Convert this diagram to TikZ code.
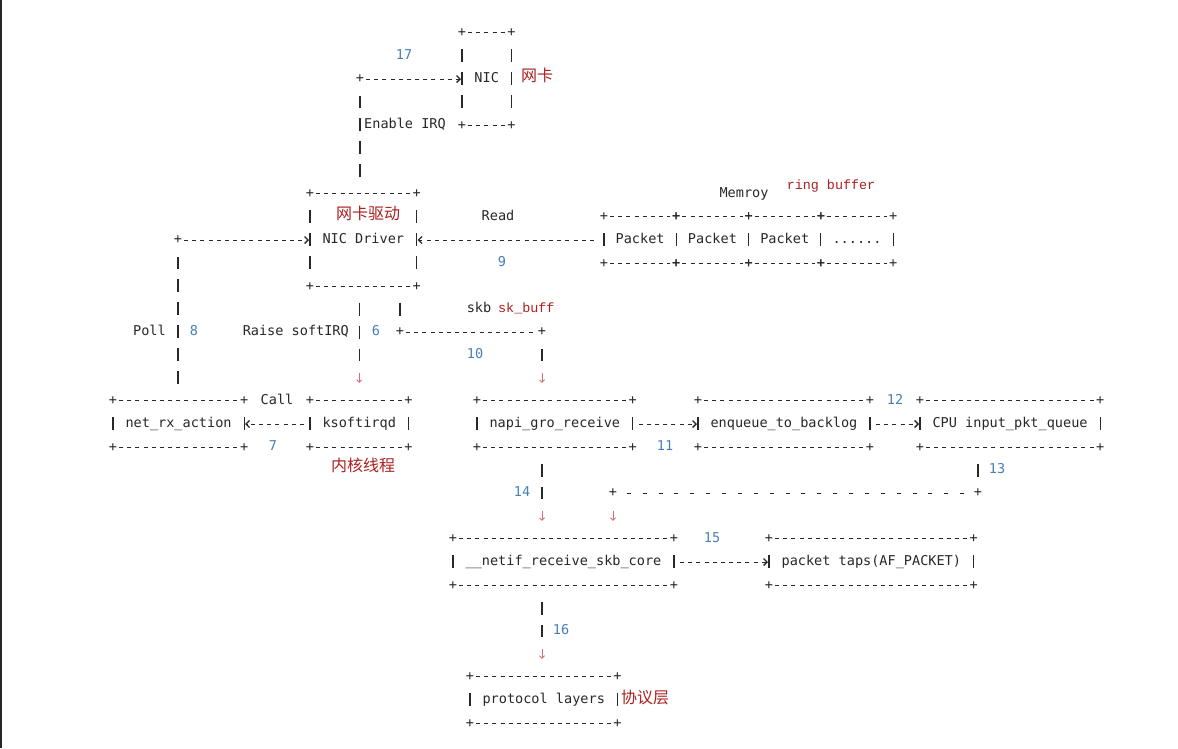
\documentclass[tikz,border=0pt]{standalone}
\usepackage{fontspec}
\setmonofont{DejaVu Sans Mono}
\newfontfamily\cnfont{Noto Sans CJK SC}
\newfontfamily\notefont{Liberation Mono}
\usetikzlibrary{arrows.meta}

\definecolor{ink}{RGB}{40,40,40}
\definecolor{stepblue}{RGB}{70,128,182}
\definecolor{notered}{RGB}{172,32,32}
\definecolor{tipred}{RGB}{214,112,112}

\tikzset{
  code/.style={font=\ttfamily\fontsize{13.55}{16}\selectfont, text=ink,
    inner sep=0pt, text height=9pt, text depth=3pt},
  asciibox/.style={code, minimum width=#1*8.17pt, minimum height=46pt, anchor=west},
  tallbox/.style={asciibox=#1, minimum height=92pt},
  corner/.style={font=\ttfamily\fontsize{13.55}{16}\selectfont, text=ink, inner sep=0pt},
  stepno/.style={code, text=stepblue},
  cnnote/.style={font=\cnfont\fontsize{16}{18}\selectfont, text=notered, inner sep=0pt},
  ennote/.style={font=\notefont\fontsize{13.4}{16}\selectfont, text=notered,
    inner sep=0pt, text height=9pt, text depth=3pt},
  hline/.style={draw=ink, line width=0.9pt, dash pattern=on 4pt off 4.17pt},
  hdots/.style={draw=ink, line width=0.9pt, dash pattern=on 4pt off 11.87pt},
  vline/.style={draw=ink, line width=1.1pt, dash pattern=on 13pt off 10pt},
  tip/.style={-{Straight Barb[length=3.5pt,width=7pt,line width=1.3pt]}, shorten >=1pt},
  downtip/.style={draw=tipred, line width=0.8pt, -{Straight Barb[length=2.5pt,width=5pt]}},
}

% frame of a box: + at the corners, ---- on top and bottom, | on the sides
\newcommand\asciiframe[1]{%
  \foreach \c in {north west,north east,south west,south east}
    \node[corner] at (#1.\c) {+};
  \draw[hline] ([xshift=6.1pt]#1.north west) -- ([xshift=-6.1pt]#1.north east);
  \draw[hline] ([xshift=6.1pt]#1.south west) -- ([xshift=-6.1pt]#1.south east);
  \draw[vline] ([yshift=-16.5pt]#1.north west) -- ([yshift=16.5pt]#1.south west);
  \draw[vline] ([yshift=-16.5pt]#1.north east) -- ([yshift=16.5pt]#1.south east);
}

\begin{document}
\begin{tikzpicture}[x=1pt, y=-1pt]
  \useasboundingbox[fill=white] (0,0) rectangle (1178,748);
  \draw[line width=2pt, black!85] (1,0) -- (1,748);

  % boxes
  \node[tallbox=6] (nic) at (462,79) {NIC};
  \node[tallbox=13] (drvr) at (310,240) {NIC Driver};
  \node[asciibox=8.8] (pkt1) at (604,240) {Packet};
  \node[asciibox=8.8] (pkt2) at (pkt1.east) {Packet};
  \node[asciibox=8.8] (pkt3) at (pkt2.east) {Packet};
  \node[asciibox=8.8] (pkt4) at (pkt3.east) {......};
  \node[asciibox=16] (netrx) at (113,424) {net\_rx\_action};
  \node[asciibox=12] (ksoft) at (310,424) {ksoftirqd};
  \node[asciibox=19] (napi) at (477,424) {napi\_gro\_receive};
  \node[asciibox=21] (enq) at (698,424) {enqueue\_to\_backlog};
  \node[asciibox=22] (cpu) at (920,424) {CPU input\_pkt\_queue};
  \node[asciibox=27] (netif) at (453,562) {\_\_netif\_receive\_skb\_core};
  \node[asciibox=25] (taps) at (769,562) {packet taps(AF\_PACKET)};
  \node[asciibox=18] (proto) at (470,700) {protocol layers};

  \foreach \b in {nic,drvr,pkt1,pkt2,pkt3,pkt4,netrx,ksoft,napi,enq,cpu,netif,taps,proto}
    {\asciiframe{\b}}

  % notes
  \node[cnnote, anchor=west] (niccn) at (521,75) {网卡};
  \node[cnnote] (drvrcn) at (368,213) {网卡驱动};
  \node[cnnote] (ksoftcn) at (363,465) {内核线程};
  \node[cnnote, anchor=west] (protocn) at (621,697) {协议层};
  \node[code] (mem) at (744,194) {Memroy};
  \node[ennote] (ring) at (831,186) {ring buffer};
  \node[code] (skb) at (479,309) {skb};
  \node[ennote, anchor=west] (skbuff) at (498,309) {sk\_buff};

  % corners of the bent lines
  \node[corner] (k17) at (360,79) {+};
  \node[corner] (k8) at (178,240) {+};
  \node[corner] (k10a) at (400,332) {+};
  \node[corner] (k10b) at (542,332) {+};
  \node[corner] (k13a) at (978,493) {+};
  \node[corner] (k13b) at (613,493) {+};

  % 17: enable IRQ
  \draw[vline] ([yshift=16.5pt]drvr.north -| k17) -- ([yshift=-16.5pt]k17.center);
  \draw[hline, tip] ([xshift=6.1pt]k17.center) -- (nic.west);
  \node[code, anchor=west] (irq) at (364,125) {Enable IRQ};
  \node[stepno] (s17) at (404,56) {17};

  % 8: poll
  \draw[vline] ([yshift=16.5pt]netrx.north -| k8) -- ([yshift=-16.5pt]k8.center);
  \draw[hline, tip] ([xshift=6.1pt]k8.center) -- (drvr.west);
  \node[code, anchor=east] (poll) at (166,332) {Poll};
  \node[stepno] (s8) at (194,332) {8};

  % 9: read
  \draw[hline, tip] ([xshift=-10.1pt]pkt1.west) -- (drvr.east);
  \node[code] (read) at (498,217) {Read};
  \node[stepno] (s9) at (502,263) {9};

  % 6: raise softIRQ
  \draw[vline] ([yshift=-16.5pt]drvr.south -| ksoft.north) -- ([yshift=39.5pt]ksoft.north);
  \draw[downtip] ([yshift=28pt]ksoft.north) -- ([yshift=18pt]ksoft.north);
  \node[code, anchor=east] (raise) at (349,332) {Raise softIRQ};
  \node[stepno] (s6) at (376,332) {6};

  % 10: skb to napi
  \draw[vline] ([yshift=-16.5pt]drvr.south -| k10a) -- ([yshift=16.5pt]k10a.center);
  \draw[hline] ([xshift=6.1pt]k10a.center) -- ([xshift=-6.1pt]k10b.center);
  \draw[vline] ([yshift=-16.5pt]k10b.center) -- ([yshift=39.5pt]napi.north -| k10b);
  \draw[downtip] ([yshift=28pt]napi.north -| k10b) -- ([yshift=18pt]napi.north -| k10b);
  \node[stepno] (s10) at (475,355) {10};

  % 7: call
  \draw[hline, tip] ([xshift=-6.1pt]ksoft.west) -- (netrx.east);
  \node[code] (call) at (277,401) {Call};
  \node[stepno] (s7) at (273,447) {7};

  % 11, 12
  \draw[hline, tip] ([xshift=6.1pt]napi.east) -- (enq.west);
  \node[stepno] (s11) at (665,447) {11};
  \draw[hline, tip] ([xshift=6.1pt]enq.east) -- (cpu.west);
  \node[stepno] (s12) at (895,401) {12};

  % 13: queue to netif
  \draw[vline] ([yshift=-16.5pt]cpu.south -| k13a) -- ([yshift=16.5pt]k13a.center);
  \draw[hdots] ([xshift=-13.9pt]k13a.center) -- ([xshift=13.9pt]k13b.center);
  \draw[downtip] ([yshift=-18pt]k13b.center) -- ([yshift=18pt]netif.north -| k13b);
  \node[stepno] (s13) at (997,470) {13};

  % 14: napi to netif
  \draw[vline] ([yshift=-16.5pt]napi.south -| k10b) -- ([yshift=39.5pt]netif.north -| k10b);
  \draw[downtip] ([yshift=28pt]netif.north -| k10b) -- ([yshift=18pt]netif.north -| k10b);
  \node[stepno] (s14) at (522,493) {14};

  % 15: packet taps
  \draw[hline, tip] ([xshift=6.1pt]netif.east) -- (taps.west);
  \node[stepno] (s15) at (712,539) {15};

  % 16: protocol layers
  \draw[vline] ([yshift=-16.5pt]netif.south -| k10b) -- ([yshift=39.5pt]proto.north -| k10b);
  \draw[downtip] ([yshift=28pt]proto.north -| k10b) -- ([yshift=18pt]proto.north -| k10b);
  \node[stepno] (s16) at (561,631) {16};
\end{tikzpicture}
\end{document}
